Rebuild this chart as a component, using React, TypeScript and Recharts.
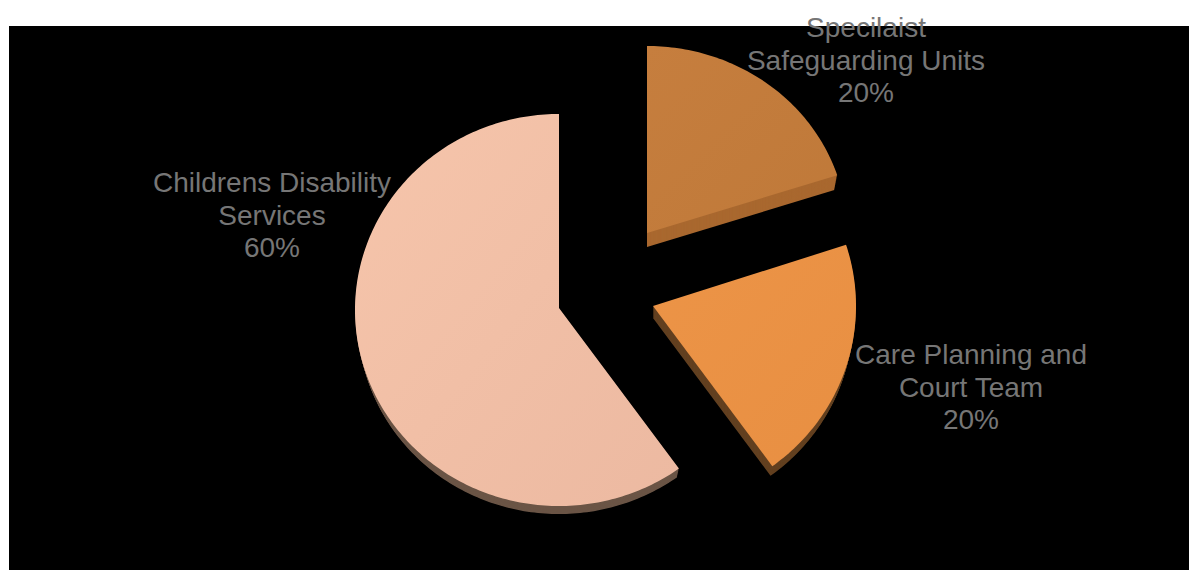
import { PieChart, Pie } from "recharts";

const sliceNames = ["Specialist Safeguarding Units", "Care Planning and Court Team", "Childrens Disability Services"];
const sliceValues = [20, 20, 60];
const labelLines = [
  ["Specilaist", "Safeguarding Units", "20%"],
  ["Care Planning and", "Court Team", "20%"],
  ["Childrens Disability", "Services", "60%"],
];
const faceColors = [
  ["#C67E3E", "#BF7939"],
  ["#EC9447", "#E88F42"],
  ["#F6C5AB", "#ECB9A1"],
];
const wallColors = ["#A9682F", "#634020", "#6B5546"];

const WIDTH = 1189;
const HEIGHT = 570;
const PIE_X = 559;
const PIE_Y = 308;
const RADIUS = 200;

// exploded position and perspective squash of each slice; arcDy drops the rim below the apex
const sliceLayout = [
  { dx: 88, dy: -75, kx: 1.0, ky: 0.935, arcDy: 0, depth: 14 },
  { dx: 94, dy: -2, kx: 1.015, ky: 0.99, arcDy: 0, depth: 12 },
  { dx: 0, dy: 0, kx: 1.02, ky: 0.98, arcDy: 2, depth: 11 },
];
const labelAnchors = [
  { x: 866, y: 37 },
  { x: 971, y: 364 },
  { x: 272, y: 192 },
];

const data = sliceNames.map((name, i) => ({ name, value: sliceValues[i] }));

function outline(cx: number, cy: number, arcDy: number, rx: number, ry: number, start: number, end: number) {
  const pts = [`M${cx},${cy}`];
  const steps = Math.ceil(Math.abs(start - end));
  for (let s = 0; s <= steps; s++) {
    const a = ((start + ((end - start) * s) / steps) * Math.PI) / 180;
    pts.push(`L${(cx + rx * Math.cos(a)).toFixed(2)},${(cy + arcDy - ry * Math.sin(a)).toFixed(2)}`);
  }
  return pts.join("") + "Z";
}

// Top face plus a stack of shrinking layers that reads as the extruded wall
function Slice3D(props: any) {
  const i = sliceNames.indexOf(props.name);
  const { dx, dy, kx, ky, arcDy, depth } = sliceLayout[i];
  const cx = props.cx + dx;
  const cy = props.cy + dy;
  const rx = props.outerRadius * kx;
  const ry = props.outerRadius * ky;
  const layers = [];
  for (let d = depth; d > 0; d--) {
    const shrink = 1 - 0.015 * (d / depth);
    layers.push(
      <path
        key={d}
        d={outline(cx, cy + d, arcDy, rx * shrink, ry * shrink, props.startAngle, props.endAngle)}
        fill={wallColors[i]}
      />
    );
  }
  return (
    <g>
      {layers}
      <path d={outline(cx, cy, arcDy, rx, ry, props.startAngle, props.endAngle)} fill={`url(#face-${i})`} />
    </g>
  );
}

function SliceLabel(props: any) {
  const i = sliceNames.indexOf(props.name);
  const anchor = labelAnchors[i];
  return (
    <text
      textAnchor="middle"
      fill="#767676"
      fontSize={28}
      fontFamily="'Liberation Sans', Arial, sans-serif"
    >
      {labelLines[i].map((line, n) => (
        <tspan key={n} x={anchor.x} y={anchor.y + n * 32.5}>
          {line}
        </tspan>
      ))}
    </text>
  );
}

export default function App() {
  return (
    <div style={{ position: "absolute", left: 0, top: 0, width: WIDTH, height: HEIGHT, background: "#fff", overflow: "hidden" }}>
      <div style={{ position: "absolute", left: 9, top: 26, right: 0, bottom: 0, background: "#000" }} />
      <div style={{ position: "absolute", left: 0, top: 0 }}>
        <PieChart width={WIDTH} height={HEIGHT} margin={{ top: 0, right: 0, bottom: 0, left: 0 }}>
          <defs>
            {faceColors.map((c, i) => (
              <linearGradient key={i} id={`face-${i}`} x1="0" y1="0" x2="1" y2="1">
                <stop offset="0%" stopColor={c[0]} />
                <stop offset="100%" stopColor={c[1]} />
              </linearGradient>
            ))}
          </defs>
          <Pie
            data={data}
            dataKey="value"
            nameKey="name"
            cx={PIE_X}
            cy={PIE_Y}
            outerRadius={RADIUS}
            startAngle={90}
            endAngle={-270}
            stroke="none"
            shape={Slice3D}
            label={SliceLabel}
            labelLine={false}
            isAnimationActive={false}
          />
        </PieChart>
      </div>
    </div>
  );
}
